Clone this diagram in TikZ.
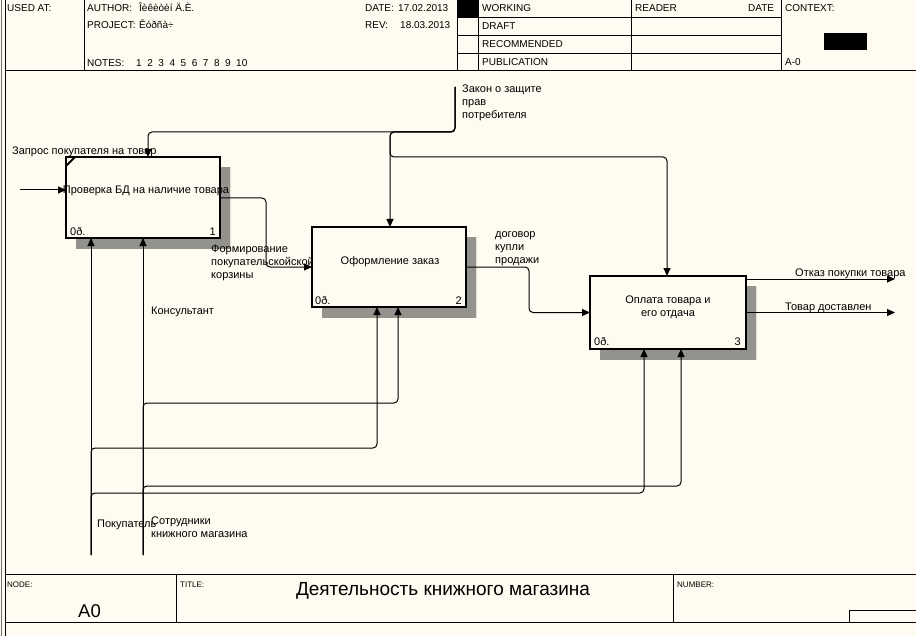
\documentclass[tikz,border=0pt]{standalone}
\usepackage{fontspec}
\setmainfont{Liberation Sans}
\usetikzlibrary{arrows.meta,shadows,patterns.meta}
\definecolor{bgc}{RGB}{255,251,240}
\definecolor{shd}{RGB}{40,40,40}
\begin{document}
\begin{tikzpicture}[x=1bp,y=-1bp,
  box/.style={draw, line width=2.6bp, fill=bgc, inner sep=0, outer sep=0, anchor=north west,
    general shadow={pattern={Dots[distance=2bp, radius=0.8bp]}, pattern color=shd, shadow xshift=10bp, shadow yshift=-10bp}},
  conn/.style={line width=1bp, rounded corners=4bp},
  arr/.style={conn, -{Triangle[length=8bp,width=7bp]}},
  frame/.style={line width=1bp},
  hdr/.style={font=\fontsize{10bp}{12bp}\selectfont, inner sep=0, anchor=base west},
  lab/.style={font=\fontsize{11bp}{13bp}\selectfont, inner sep=0, anchor=base west},
  mlab/.style={lab, align=left, anchor=north west, execute at begin node=\rule{0pt}{8.5bp}},
  small/.style={font=\fontsize{8bp}{10bp}\selectfont, inner sep=0, anchor=base west}
]
\useasboundingbox (0,0) rectangle (916,636);
\fill[bgc] (0,0) rectangle (916,636);

% frame
\draw[line width=1bp, black!55] (1.5,0) -- (1.5,636);
\draw[frame] (5,0) -- (5,636);
\draw[frame] (5,71) -- (916,71);
\draw[frame] (84,0) -- (84,71);
\draw[frame] (457.5,0) -- (457.5,71);
\draw[frame] (478.5,0) -- (478.5,71);
\draw[frame] (631,0) -- (631,71);
\draw[frame] (781.5,0) -- (781.5,71);
\foreach \yy in {17.5,35.5,53.5} \draw[frame] (457.5,\yy) -- (781.5,\yy);
\fill (457.5,0) rectangle (478.5,17.5);
\fill (824,33) rectangle (867,50);

% header texts
\node[hdr] (usedat) at (7,12) {USED AT:};
\node[hdr] (author) at (87,12) {AUTHOR:};
\node[hdr] (authorv) at (139,12) {Îèêèòèí Ä.È.};
\node[hdr] (project) at (87,29) {PROJECT:};
\node[hdr] (projectv) at (139,29) {Êóðñà÷};
\node[hdr] (notes) at (87,67) {NOTES:};
\node[hdr] (notesv) at (136,67) {1~~2~~3~~4~~5~~6~~7~~8~~9~~10};
\node[hdr] (date) at (365,12) {DATE:};
\node[hdr] (datev) at (398,12) {17.02.2013};
\node[hdr] (rev) at (365,29) {REV:};
\node[hdr] (revv) at (400,29) {18.03.2013};
\node[hdr] (working) at (482,12) {WORKING};
\node[hdr] (draft) at (482,29.5) {DRAFT};
\node[hdr] (recommended) at (482,47.5) {RECOMMENDED};
\node[hdr] (publication) at (482,66) {PUBLICATION};
\node[hdr] (reader) at (635,12) {READER};
\node[hdr] (rdate) at (748,12) {DATE};
\node[hdr] (context) at (785,12) {CONTEXT:};
\node[hdr] (ctxnode) at (785,66) {A-0};

% boxes
\node[box, minimum width=154bp, minimum height=81bp] (b1) at (66,157) {};
\node[box, minimum width=154bp, minimum height=80bp] (b2) at (312,227) {};
\node[box, minimum width=156bp, minimum height=73bp] (b3) at (590,276) {};
\draw[line width=2bp] ([yshift=-9bp]b1.north west) -- ([xshift=9bp]b1.north west);

\node[lab, anchor=base] (b1t) at (146,194) {Проверка БД на наличие товара};
\node[lab] (b1n) at (70,236) {0ð.};
\node[lab, anchor=base east] (b1k) at (216,236) {1};
\node[lab, anchor=base] (b2t) at (390,265) {Оформление заказ};
\node[lab] (b2n) at (315,304) {0ð.};
\node[lab, anchor=base east] (b2k) at (462,304) {2};
\node[mlab, align=center, anchor=north] (b3t) at (668,295.5) {Оплата товара и\\его отдача};
\node[lab] (b3n) at (594,345) {0ð.};
\node[lab, anchor=base east] (b3k) at (741,345) {3};

% coordinates
\coordinate (in1) at (20,190);
\coordinate (law) at (455,87);
\coordinate (lawA) at (148,132);
\coordinate (lawB) at (390,132);
\coordinate (lawC) at (390,157);
\coordinate (lawD) at (667,157);
\coordinate (o1) at (266,198);
\coordinate (o2) at (529,290);
\coordinate (r1) at (895,279);
\coordinate (r2) at (895,313);
\coordinate (m1) at (91,555);
\coordinate (m2) at (143,555);
\coordinate (m2a) at (398,403);
\coordinate (m1a) at (377,448);
\coordinate (m2b) at (681,486);
\coordinate (m1b) at (644,493);

% connectors
\draw[arr] (in1) -- (in1 -| b1.west);
\draw[arr] (law) |- (lawA) -- (lawA |- b1.north);
\draw[arr] (law) |- (lawB) -- (lawB |- b2.north);
\draw[arr] (law) |- (lawB) -- (lawC) -- (lawD) -- (lawD |- b3.north);
\draw[arr] (o1 -| b1.east) -- (o1) |- (b2.west);
\draw[arr] (b2.east) -| (o2) |- (b3.west);
\draw[arr] (r1 -| b3.east) -- (r1);
\draw[arr] (b3.east) -- (r2 |- b3.east);
\draw[arr] (m1) -- (m1 |- b1.south);
\draw[arr] (m2) -- (m2 |- b1.south);
\draw[arr] (m2) |- (m2a) -- (m2a |- b2.south);
\draw[arr] (m1) |- (m1a) -- (m1a |- b2.south);
\draw[arr] (m2) |- (m2b) -- (m2b |- b3.south);
\draw[arr] (m1) |- (m1b) -- (m1b |- b3.south);

% labels
\node[lab] (lin) at (12,155) {Запрос покупателя на товар};
\node[mlab] (lform) at (211,244.5) {Формирование\\покупательскойской\\корзины};
\node[lab] (lcons) at (151,314) {Консультант};
\node[mlab] (ldog) at (495,231.5) {договор\\купли\\продажи};
\node[mlab] (llaw) at (462,84.5) {Закон о защите\\прав\\потребителя};
\node[lab] (lotk) at (795,276) {Отказ покупки товара};
\node[lab] (ldost) at (785,310) {Товар доставлен};
\node[lab] (lbuy) at (97,527) {Покупатель};
\node[mlab] (lstaff) at (151,516.5) {Сотрудники\\книжного магазина};

% footer
\draw[frame] (5,574) -- (916,574);
\draw[frame] (5,622) -- (916,622);
\draw[frame] (176,574) -- (176,622);
\draw[frame] (673,574) -- (673,622);
\draw[frame] (849,622) -- (849,610) -- (916,610);
\node[small] (nodel) at (7,587) {NODE:};
\node[lab, font=\fontsize{18.5bp}{20bp}\selectfont] (nodev) at (78,617) {A0};
\node[small] (titlel) at (180,587) {TITLE:};
\node[lab, anchor=base, font=\fontsize{19bp}{21bp}\selectfont] (title) at (443,595) {Деятельность книжного магазина};
\node[small] (numl) at (677,587) {NUMBER:};
\end{tikzpicture}
\end{document}
